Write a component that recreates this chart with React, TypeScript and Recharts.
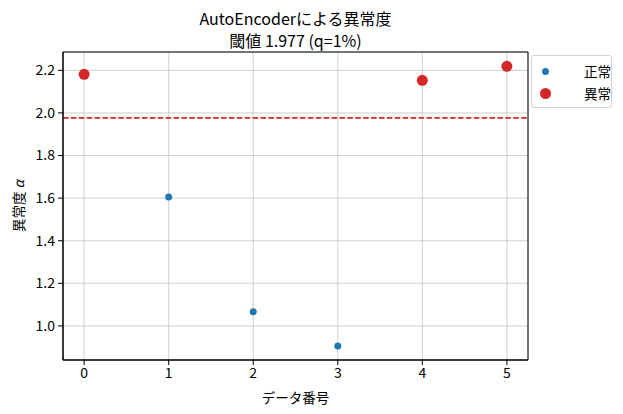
import {
  ScatterChart,
  Scatter,
  XAxis,
  YAxis,
  CartesianGrid,
  ReferenceLine,
  ReferenceArea,
} from "recharts"

const indices = [0, 1, 2, 3, 4, 5]
const scores = [2.181, 1.605, 1.066, 0.906, 2.153, 2.219]
const threshold = 1.977
const xTicks = [0, 1, 2, 3, 4, 5]
const yTicks = [1.0, 1.2, 1.4, 1.6, 1.8, 2.0, 2.2]

const points = indices.map((i, k) => ({ x: i, y: scores[k] }))
const normal = points.filter((p) => p.y < threshold)
const anomaly = points.filter((p) => p.y >= threshold)

const font = "'Noto Sans CJK JP', 'Noto Sans', sans-serif"
const blue = "#1f77b4"
const red = "#d62728"
const ink = "#000"

const dot = (r: number, color: string) => (props: any) => (
  <circle cx={props.cx} cy={props.cy} r={r} fill={color} />
)

const YLabel = (props: any) => {
  const { viewBox } = props
  const cx = 10
  const cy = viewBox.y + viewBox.height / 2
  return (
    <text
      x={cx}
      y={cy}
      transform={`rotate(-90, ${cx}, ${cy})`}
      textAnchor="middle"
      dominantBaseline="central"
      fontSize={13.5}
      fontFamily={font}
      style={{ fill: ink }}
    >
      異常度 <tspan fontStyle="italic">α</tspan>
    </text>
  )
}

const XLabel = (props: any) => {
  const { viewBox } = props
  const cx = viewBox.x + viewBox.width / 2
  return (
    <text
      x={cx}
      y={389}
      textAnchor="middle"
      dominantBaseline="central"
      fontSize={13.5}
      fontFamily={font}
      style={{ fill: ink }}
    >
      データ番号
    </text>
  )
}

export default function App() {
  return (
    <div style={{ position: "relative", width: 607, height: 406, fontFamily: font }}>
      <div
        style={{
          position: "absolute",
          left: 0,
          width: 575,
          top: -1,
          textAlign: "center",
          fontSize: 16,
          lineHeight: "22px",
          color: ink,
        }}
      >
        <div>AutoEncoderによる異常度</div>
        <div>閾値 1.977 (q=1%)</div>
      </div>
      <ScatterChart
        width={607}
        height={406}
        margin={{ top: 44, right: 87, bottom: 8, left: 0 }}
      >
        <CartesianGrid stroke="#c4c4c4" strokeWidth={0.8} />
        <XAxis
          type="number"
          dataKey="x"
          domain={[-0.25, 5.25]}
          ticks={xTicks}
          allowDataOverflow
          height={46}
          stroke="#000"
          tick={{ fill: ink, fontSize: 14, fontFamily: font }}
          tickSize={5}
          tickMargin={3}
          label={<XLabel />}
        />
        <YAxis
          type="number"
          dataKey="y"
          domain={[0.84, 2.286]}
          ticks={yTicks}
          allowDataOverflow
          width={55}
          stroke="#000"
          tick={{ fill: ink, fontSize: 14, fontFamily: font }}
          tickFormatter={(v: number) => v.toFixed(1)}
          tickSize={5}
          tickMargin={3}
          label={<YLabel />}
        />
        <ReferenceArea
          x1={-0.25}
          x2={5.25}
          y1={0.84}
          y2={2.286}
          fill="none"
          stroke="#000"
          strokeWidth={1}
          fillOpacity={0}
        />
        <ReferenceLine
          y={threshold}
          stroke={red}
          strokeWidth={1.8}
          strokeDasharray="5.5 2.4"
        />
        <Scatter data={normal} shape={dot(3.5, blue)} isAnimationActive={false} />
        <Scatter data={anomaly} shape={dot(5.5, red)} isAnimationActive={false} />
      </ScatterChart>
      <div
        style={{
          position: "absolute",
          left: 523,
          top: 47,
          width: 79,
          height: 51,
          border: "1px solid #d0d0d0",
          borderRadius: 3,
          background: "#fff",
          fontSize: 13.5,
          color: ink,
          whiteSpace: "nowrap",
        }}
      >
        <div style={{ position: "absolute", left: 8, top: 5, height: 20, width: 70, display: "flex", alignItems: "center" }}>
          <span style={{ flex: "none", width: 7, height: 7, borderRadius: "50%", background: blue, marginLeft: 2, marginRight: 35 }} />
          <span>正常</span>
        </div>
        <div style={{ position: "absolute", left: 8, top: 27, height: 20, width: 70, display: "flex", alignItems: "center" }}>
          <span style={{ flex: "none", width: 11, height: 11, borderRadius: "50%", background: red, marginRight: 33 }} />
          <span>異常</span>
        </div>
      </div>
    </div>
  )
}
